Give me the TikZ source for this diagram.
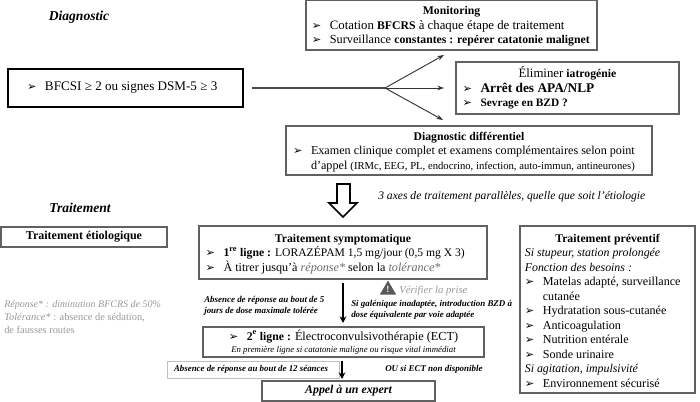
\documentclass[tikz,border=0pt]{standalone}
\usepackage{fontspec}
\setmainfont{Liberation Serif}
\newfontfamily\symbfont{DejaVu Sans}
\usetikzlibrary{positioning,arrows.meta,shapes.geometric}
\definecolor{boxgray}{gray}{0.38}
\definecolor{notegray}{gray}{0.6}
\newcommand{\puce}{\makebox[13.5pt][l]{\symbfont\fontsize{8.5}{8.5}\selectfont ➢}}
\newcommand{\ligne}[1]{\mbox{\puce #1}}
\newcommand{\taille}[2]{{\fontsize{#1}{10.9}\selectfont #2}}
\newcommand{\gras}[1]{{\fontsize{8.8}{10.9}\selectfont\bfseries #1}}
\newcommand{\ital}[1]{{\fontsize{8.9}{10.9}\selectfont\itshape #1}}
\newcommand{\titre}[1]{\rule{0pt}{8pt}\hfill #1\hfill\hspace*{0pt}}
\begin{document}
\begin{tikzpicture}[
                    x=0.75pt, y=-0.75pt,
                    framebox/.style={rectangle, draw=boxgray, line width=0.9pt, fill=white, anchor=north west, inner sep=0pt, outer sep=0pt, align=flush left, font=\fontsize{9.2}{10.9}\selectfont},
                    title/.style={font=\fontsize{10.2}{11}\selectfont\bfseries\itshape, inner sep=0pt},
                    note/.style={font=\fontsize{6.7}{8.4}\selectfont\bfseries\itshape, inner sep=0pt, align=flush left, anchor=west},
                    greynote/.style={font=\fontsize{7.8}{9.8}\selectfont, text=notegray, inner sep=0pt, align=flush left, anchor=north west},
                    branch/.style={draw=black!80, line width=0.7pt, -{Stealth[length=5pt,width=3.5pt]}},
                    stepline/.style={draw=black, line width=1.2pt, -{Stealth[length=5pt,width=5pt]}}
                ]
                    \useasboundingbox (0,0) rectangle (700,402);
                    % titres
                    \node[title] (diag) at (79,17) {Diagnostic};
                    \node[title] (trait) at (80,208) {Traitement};
                    % partie haute
                    \node[framebox, line width=1.5pt, draw=black, minimum width=176.25pt, minimum height=28.5pt, text width=153.75pt, font=\fontsize{9.85}{10.9}\selectfont] (bfcsi) at (8,69) {\hspace*{3pt}\ligne{BFCSI ≥ 2 ou signes DSM-5 ≥ 3}};
                    \node[framebox, minimum width=218.25pt, minimum height=37.5pt, text width=209.5pt, font=\fontsize{9.6}{10.9}\selectfont] (monitoring) at (306,0) {\titre{\gras{Monitoring}}\\\ligne{Cotation \gras{BFCRS} à chaque étape de traitement}\\\ligne{\taille{9.2}{Surveillance} \gras{constantes : repérer catatonie malignet}}};
                    \node[framebox, minimum width=167.25pt, minimum height=39pt, text width=157.5pt] (iatro) at (456,62) {\titre{\taille{9.6}{Éliminer} \gras{iatrogénie}}\\\ligne{\taille{10}{\bfseries Arrêt des APA/NLP}}\\\ligne{\taille{8.5}{\bfseries Sevrage en BZD ?}}};
                    \node[framebox, minimum width=274.5pt, minimum height=36.75pt, text width=264pt] (differentiel) at (286,126) {\titre{\gras{Diagnostic différentiel}}\\\ligne{\taille{9.1}{Examen clinique complet et examens complémentaires selon point}}\\\hspace*{13.5pt}\mbox{\taille{9.1}{d’appel} \taille{8}{(IRMc, EEG, PL, endocrino, infection, auto-immun, antineurones)}}};
                    \coordinate (forkstart) at (252,88);
                    \coordinate (fork) at (385,88);
                    \coordinate (forkup) at (444,55);
                    \coordinate (forkmid) at (444,88);
                    \coordinate (forkdown) at (443,120);
                    \draw[draw=black!70, line width=0.8pt] (forkstart) -- (fork);
                    \draw[branch] (fork) -- (forkup);
                    \draw[branch] (fork) -- (forkmid);
                    \draw[branch] (fork) -- (forkdown);
                    % grosse fleche
                    \draw[draw=black, line width=1.3pt, fill=white] (337,184) -- (350,184) -- (350,203) -- (357,203) -- (343,217) -- (329,203) -- (337,203) -- cycle;
                    \node[font=\fontsize{8.7}{10}\selectfont\itshape, inner sep=0pt, anchor=west] (axes) at (378,197) {3 axes de traitement parallèles, quelle que soit l’étiologie};
                    % partie basse
                    \node[framebox, minimum width=124.5pt, minimum height=15pt, text width=124.5pt, align=flush center] (etio) at (1,227) {\taille{9}{\bfseries Traitement étiologique}};
                    \node[greynote] (reponse) at (4,300) {{\fontsize{7.5}{9.8}\selectfont\itshape Réponse* : diminution BFCRS de 50\%}\\\textit{Tolérance*} : absence de sédation,\\de fausses routes};
                    \node[framebox, minimum width=216pt, minimum height=39.75pt, text width=206.25pt, font=\fontsize{9.1}{10.9}\selectfont] (sympto) at (199,226) {\titre{\gras{Traitement symptomatique}}\\\ligne{\gras{1\textsuperscript{re} ligne :} \taille{8.7}{LORAZÉPAM 1,5 mg/jour (0,5 mg X 3)}}\\\ligne{À titrer jusqu’à \textit{\textcolor{notegray!70!black}{réponse*}} selon la \textit{\textcolor{notegray!70!black}{tolérance*}}}};
                    \node[framebox, minimum width=210.75pt, minimum height=22.5pt, text width=210.75pt, align=flush center] (ect) at (203,327) {\ligne{\gras{2\textsuperscript{e} ligne :} Électroconvulsivothérapie (ECT)}\\[-1.5pt]{\fontsize{6.6}{8}\selectfont\itshape En première ligne si catatonie maligne ou risque vital immédiat}};
                    \node[framebox, draw=black!25, line width=0.6pt, minimum width=129pt, minimum height=12.75pt, text width=129pt, align=flush center, font=\fontsize{6.65}{8}\selectfont\bfseries\itshape] (douze) at (167,361) {\hspace*{-3pt}Absence de réponse au bout de 12 séances};
                    \node[framebox, minimum width=129.75pt, minimum height=15pt, text width=129.75pt, align=flush center, font=\fontsize{8.9}{11}\selectfont\bfseries\itshape] (expert) at (262,381) {Appel à un expert};
                    \node[framebox, minimum width=131.25pt, minimum height=125.25pt, text width=124pt, font=\fontsize{9.1}{10.9}\selectfont] (preventif) at (520,226) {\titre{\gras{Traitement préventif}}\\\ital{Si stupeur, station prolongée}\\\ital{Fonction des besoins :}\\\ligne{Matelas adapté, surveillance}\\\hspace*{13.5pt}cutanée\\\ligne{Hydratation sous-cutanée}\\\ligne{Anticoagulation}\\\ligne{Nutrition entérale}\\\ligne{Sonde urinaire}\\\ital{Si agitation, impulsivité}\\\ligne{Environnement sécurisé}};
                    % notes
                    \node[note] (cinq) at (204,306) {Absence de réponse au bout de 5\\jours de dose maximale tolérée};
                    \node[note] (galenique) at (351,310) {Si galénique inadaptée, introduction BZD à\\dose équivalente par voie adaptée};
                    \node[note] (ou) at (385,369) {OU si ECT non disponible};
                    % verifier la prise
                    \node[regular polygon, regular polygon sides=3, fill=black!65, inner sep=0pt, minimum size=14.25pt] (warn) at (388,290) {};
                    \node[font=\fontsize{7}{7}\selectfont\bfseries, text=white, inner sep=0pt] (warnmark) at (388,289.5) {!};
                    \node[font=\fontsize{8}{10}\selectfont\itshape, text=notegray, inner sep=0pt, anchor=west] (verif) at (399,291) {Vérifier la prise};
                    % fleches verticales
                    \coordinate (stepa) at (343,283);
                    \coordinate (stepb) at (343,323);
                    \coordinate (stepc) at (342,361);
                    \coordinate (stepd) at (342,379);
                    \draw[stepline] (stepa) -- (stepb);
                    \draw[stepline] (stepc) -- (stepd);
                \end{tikzpicture}
\end{document}
